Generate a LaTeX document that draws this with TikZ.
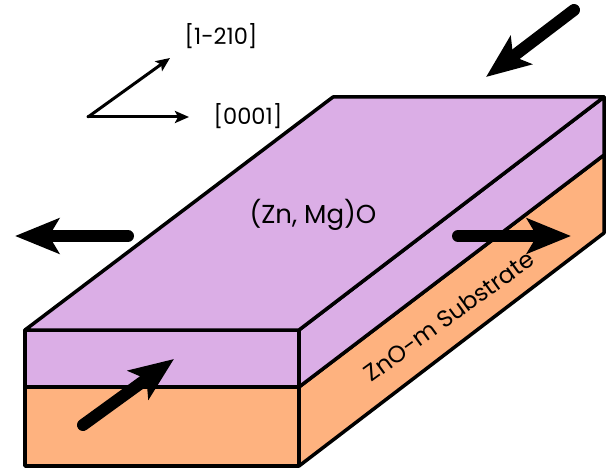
\documentclass[tikz,border=0pt]{standalone}
\usepackage{fontspec}
\setmainfont{Poppins}
\usetikzlibrary{arrows.meta}
\definecolor{filmcol}{HTML}{DBAEE6}
\definecolor{subscol}{HTML}{FEB27F}
\tikzset{
  facefilm/.style={fill=filmcol, draw=black, line width=3.5pt, line join=round},
  facesubs/.style={fill=subscol, draw=black, line width=3.5pt, line join=round},
  bigarrow/.style={line width=12pt, line cap=round, -{Stealth[length=44pt, width=35pt, inset=10pt]}},
  axisarrow/.style={line width=3pt, line cap=round, -{Stealth[length=14pt, width=12pt, inset=3pt]}},
  lbl/.style={font=\fontsize{22.5}{26}\selectfont, inner sep=0pt},
  lblfilm/.style={font=\fontsize{26}{30}\selectfont, inner sep=0pt},
  lblsubs/.style={font=\fontsize{23.5}{26}\selectfont, inner sep=0pt},
}

\begin{document}
\begin{tikzpicture}[x=1pt, y=-1pt]
  \useasboundingbox (0,0) rectangle (613,470);

  % corners of the slab
  \coordinate (ftl) at (25,330);
  \coordinate (ftr) at (299,330);
  \coordinate (fml) at (25,387);
  \coordinate (fmr) at (299,387);
  \coordinate (fbl) at (25,466);
  \coordinate (fbr) at (299,466);
  \coordinate (btl) at (333,97);
  \coordinate (btr) at (604,97);
  \coordinate (bmr) at (604,155);
  \coordinate (bbr) at (604,233);

  \draw[facesubs] (fml) -- (fmr) -- (fbr) -- (fbl) -- cycle;
  \draw[facesubs] (fmr) -- (bmr) -- (bbr) -- (fbr) -- cycle;
  \draw[facefilm] (ftl) -- (ftr) -- (fmr) -- (fml) -- cycle;
  \draw[facefilm] (ftr) -- (btr) -- (bmr) -- (fmr) -- cycle;
  \draw[facefilm] (ftl) -- (btl) -- (btr) -- (ftr) -- cycle;

  \node[lblfilm] (film) at (313,215) {(Zn, Mg)O};
  \node[lblsubs, rotate=36] (subs) at (449,316) {ZnO-m Substrate};

  % strain arrows
  \coordinate (a1s) at (574,10);
  \coordinate (a1e) at (486,77);
  \coordinate (a2s) at (128,236);
  \coordinate (a2e) at (15,236);
  \coordinate (a3s) at (458,236);
  \coordinate (a3e) at (571,236);
  \coordinate (a4s) at (83,425);
  \coordinate (a4e) at (174,359);
  \draw[bigarrow] (a1s) -- (a1e);
  \draw[bigarrow] (a2s) -- (a2e);
  \draw[bigarrow] (a3s) -- (a3e);
  \draw[bigarrow] (a4s) -- (a4e);

  % crystal axes
  \coordinate (orig) at (88,117);
  \coordinate (ax1) at (170,58);
  \coordinate (ax2) at (189,117);
  \draw[axisarrow] (orig) -- (ax1);
  \draw[axisarrow] (orig) -- (ax2);
  \node[lbl] (lab1) at (221,36) {[1-210]};
  \node[lbl] (lab2) at (248,116) {[0001]};
\end{tikzpicture}
\end{document}
